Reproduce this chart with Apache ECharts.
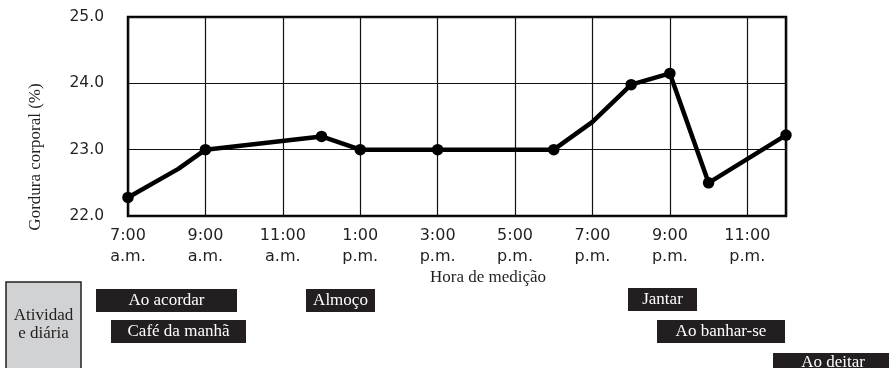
<!DOCTYPE html>
<html>
<head>
<meta charset="utf-8">
<script src="https://cdn.jsdelivr.net/npm/echarts@6/dist/echarts.min.js"></script>
<style>html,body{margin:0;padding:0;background:#fff}#c{width:889px;height:368px}</style>
</head>
<body>
<div id="c"></div>
<script>
// Measurement times (hours of the day, 24h clock) and body fat (%)
const hours  = [7, 8.3, 9, 12, 13, 15, 18, 19, 20, 21, 22, 24];
const values = [22.28, 22.71, 23.0, 23.2, 23.0, 23.0, 23.0, 23.42, 23.98, 24.15, 22.5, 23.22];
const marked = [1, 0, 1, 1, 1, 1, 1, 0, 1, 1, 1, 1];
// Tick labels (every 2 hours starting at 7:00)
const tickTimes = ['7:00', '9:00', '11:00', '1:00', '3:00', '5:00', '7:00', '9:00', '11:00'];
const tickPeriods = ['a.m.', 'a.m.', 'a.m.', 'p.m.', 'p.m.', 'p.m.', 'p.m.', 'p.m.', 'p.m.'];
const startHour = 7;
const yTicks = [22.0, 23.0, 24.0, 25.0];
const activityNames = ['Ao acordar', 'Café da manhã', 'Almoço', 'Jantar', 'Ao banhar-se', 'Ao deitar'];

const chart = echarts.init(document.getElementById('c'));
const serif = '"Liberation Serif", "Times New Roman", serif';

// annotation boxes layout: [x, y, width, textOffsetY]
const boxLayout = [[96, 289, 141, 11.8], [111, 320, 135, 11.8], [306, 289, 69, 11.8],
                   [628, 288, 69, 11.8], [657, 320, 128, 11.8], [773, 353, 120, 9.3]];

const seriesData = hours.map((h, i) => ({
  value: [h - startHour, values[i]],
  symbolSize: marked[i] ? 11.5 : 0
}));

const graphics = [
  { type: 'text', x: 36, y: 157, rotation: Math.PI / 2,
    style: { text: 'Gordura corporal (%)', font: '17px ' + serif, fill: '#231f20', align: 'center', verticalAlign: 'middle' } },
  { type: 'text', x: 488, y: 278,
    style: { text: 'Hora de medição', font: '17px ' + serif, fill: '#231f20', align: 'center', verticalAlign: 'middle' } },
  { type: 'rect', shape: { x: 6, y: 282, width: 75, height: 100 },
    style: { fill: '#d1d2d4', stroke: '#231f20', lineWidth: 1.5 } },
  { type: 'text', x: 43.5, y: 325,
    style: { text: 'Atividad\ne diária', font: '17px ' + serif, fill: '#231f20', align: 'center', verticalAlign: 'middle', lineHeight: 18 } }
];
activityNames.forEach((name, i) => {
  const b = boxLayout[i];
  graphics.push({ type: 'rect', shape: { x: b[0], y: b[1], width: b[2], height: 23 }, style: { fill: '#231f20' } });
  graphics.push({ type: 'text', x: b[0] + b[2] / 2, y: b[1] + b[3],
    style: { text: name, font: '17px ' + serif, fill: '#fff', align: 'center', verticalAlign: 'middle' } });
});

chart.setOption({
  animation: false,
  backgroundColor: '#fff',
  grid: { left: 128, right: 103, top: 17, bottom: 152, show: true, borderColor: '#000', borderWidth: 2.5, backgroundColor: 'transparent' },
  xAxis: {
    type: 'value', min: 0, max: 24 - startHour, interval: 2,
    axisLine: { show: false }, axisTick: { show: false },
    splitLine: { show: true, lineStyle: { color: '#111', width: 1.2 } },
    axisLabel: {
      showMaxLabel: false, margin: 9, color: '#231f20', fontFamily: 'DejaVu Sans', fontSize: 16, lineHeight: 21,
      formatter: v => { const i = Math.round(v / 2); return (v % 2 === 0 && i < tickTimes.length) ? tickTimes[i] + '\n' + tickPeriods[i] : ''; }
    }
  },
  yAxis: {
    type: 'value', min: yTicks[0], max: yTicks[yTicks.length - 1], interval: 1,
    axisLine: { show: false }, axisTick: { show: false },
    splitLine: { show: true, lineStyle: { color: '#111', width: 1.2 } },
    axisLabel: { margin: 24, color: '#231f20', fontFamily: 'DejaVu Sans', fontSize: 15.5, formatter: v => v.toFixed(1) }
  },
  series: [{
    type: 'line', data: seriesData, clip: false,
    symbol: 'circle', lineStyle: { color: '#000', width: 4.5 },
    itemStyle: { color: '#000' }
  }],
  graphic: graphics
});
</script>
</body>
</html>
